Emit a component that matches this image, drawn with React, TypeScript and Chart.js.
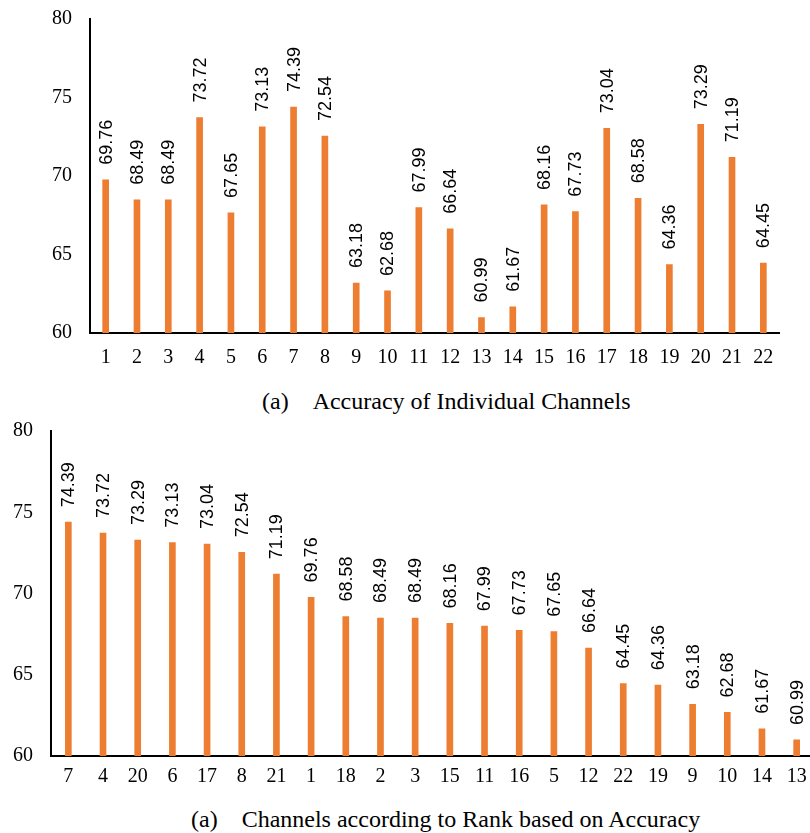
import React, { useEffect, useRef } from "react";
import { Chart, registerables } from "chart.js";

Chart.register(...registerables);

const channels = ["1","2","3","4","5","6","7","8","9","10","11","12","13","14","15","16","17","18","19","20","21","22"];
const channelAccuracy = [69.76,68.49,68.49,73.72,67.65,73.13,74.39,72.54,63.18,62.68,67.99,66.64,60.99,61.67,68.16,67.73,73.04,68.58,64.36,73.29,71.19,64.45];

const rankedChannels = ["7","4","20","6","17","8","21","1","18","2","3","15","11","16","5","12","22","19","9","10","14","13"];
const rankedAccuracy = [74.39,73.72,73.29,73.13,73.04,72.54,71.19,69.76,68.58,68.49,68.49,68.16,67.99,67.73,67.65,66.64,64.45,64.36,63.18,62.68,61.67,60.99];

const yTicks = [60, 65, 70, 75, 80];
const captionTop = "(a)\u00a0\u00a0\u00a0\u00a0Accuracy of Individual Channels";
const captionBottom = "(a)\u00a0\u00a0\u00a0\u00a0Channels according to Rank based on Accuracy";

const ORANGE = "#ED7D31";
const SERIF = "'Liberation Serif', 'Times New Roman', serif";
const SANS = "'Liberation Sans', Arial, sans-serif";

const labelPlugin = {
  id: "vlabels",
  afterDatasetsDraw(chart: any) {
    const ctx = chart.ctx;
    const meta = chart.getDatasetMeta(0);
    const data = chart.data.datasets[0].data;
    ctx.save();
    ctx.fillStyle = "#000";
    ctx.font = `18px ${SANS}`;
    ctx.textAlign = "left";
    ctx.textBaseline = "middle";
    meta.data.forEach((bar: any, i: number) => {
      ctx.save();
      ctx.translate(bar.x + 1, bar.y - 15);
      ctx.rotate(-Math.PI / 2);
      ctx.fillText(Number(data[i]).toFixed(2), 0, 0);
      ctx.restore();
    });
    ctx.restore();
  },
};

function BarChart(props: {
  labels: string[];
  values: number[];
  width: number;
  height: number;
  yWidth: number;
  xHeight: number;
  padTop: number;
  padRight: number;
  xPad: number;
}) {
  const ref = useRef<HTMLCanvasElement>(null);
  useEffect(() => {
    const chart = new Chart(ref.current!, {
      type: "bar",
      data: {
        labels: props.labels,
        datasets: [
          {
            data: props.values,
            backgroundColor: ORANGE,
            barThickness: 6,
          },
        ],
      },
      options: {
        animation: false,
        responsive: false,
        maintainAspectRatio: false,
        layout: { padding: { top: props.padTop, right: props.padRight, left: 0, bottom: 0 } },
        plugins: { legend: { display: false }, tooltip: { enabled: false } },
        scales: {
          x: {
            grid: { display: false, drawTicks: false },
            border: { display: true, color: "#000", width: 2 },
            ticks: {
              color: "#000",
              font: { family: SERIF, size: 20 },
              padding: props.xPad,
              maxRotation: 0,
              autoSkip: false,
            },
            afterFit(scale: any) {
              scale.height = props.xHeight;
              scale.paddingLeft = 0;
              scale.paddingRight = 0;
            },
          },
          y: {
            min: 60,
            max: 80,
            afterBuildTicks(scale: any) {
              scale.ticks = yTicks.map((v) => ({ value: v }));
            },
            grid: { display: false, drawTicks: false },
            border: { display: true, color: "#000", width: 2 },
            ticks: {
              color: "#000",
              font: { family: SERIF, size: 20 },
              padding: 18,
            },
            afterFit(scale: any) {
              scale.width = props.yWidth;
              scale.paddingTop = 0;
              scale.paddingBottom = 0;
            },
          },
        },
      },
      plugins: [labelPlugin],
    });
    return () => chart.destroy();
  }, []);
  return (
    <canvas
      ref={ref}
      width={props.width}
      height={props.height}
      style={{ width: props.width, height: props.height, display: "block" }}
    />
  );
}

export default function App() {
  const captionStyle: React.CSSProperties = {
    position: "absolute",
    whiteSpace: "nowrap",
    fontFamily: SERIF,
    fontSize: 24,
    color: "#000",
    lineHeight: "28px",
  };
  return (
    <div
      style={{
        position: "absolute",
        left: 0,
        top: 0,
        width: 810,
        height: 833,
        overflow: "hidden",
        background: "#fff",
      }}
    >
      <div style={{ position: "absolute", left: 0, top: 0 }}>
        <BarChart
          labels={channels}
          values={channelAccuracy}
          width={810}
          height={380}
          yWidth={90}
          xHeight={47}
          padTop={19}
          padRight={31}
          xPad={13}
        />
      </div>
      <div style={{ ...captionStyle, top: 387, left: 262 }}>{captionTop}</div>
      <div style={{ position: "absolute", left: 0, top: 410 }}>
        <BarChart
          labels={rankedChannels}
          values={rankedAccuracy}
          width={830}
          height={380}
          yWidth={51}
          xHeight={34}
          padTop={21}
          padRight={16}
          xPad={9}
        />
      </div>
      <div style={{ ...captionStyle, top: 805, left: 191 }}>{captionBottom}</div>
    </div>
  );
}
